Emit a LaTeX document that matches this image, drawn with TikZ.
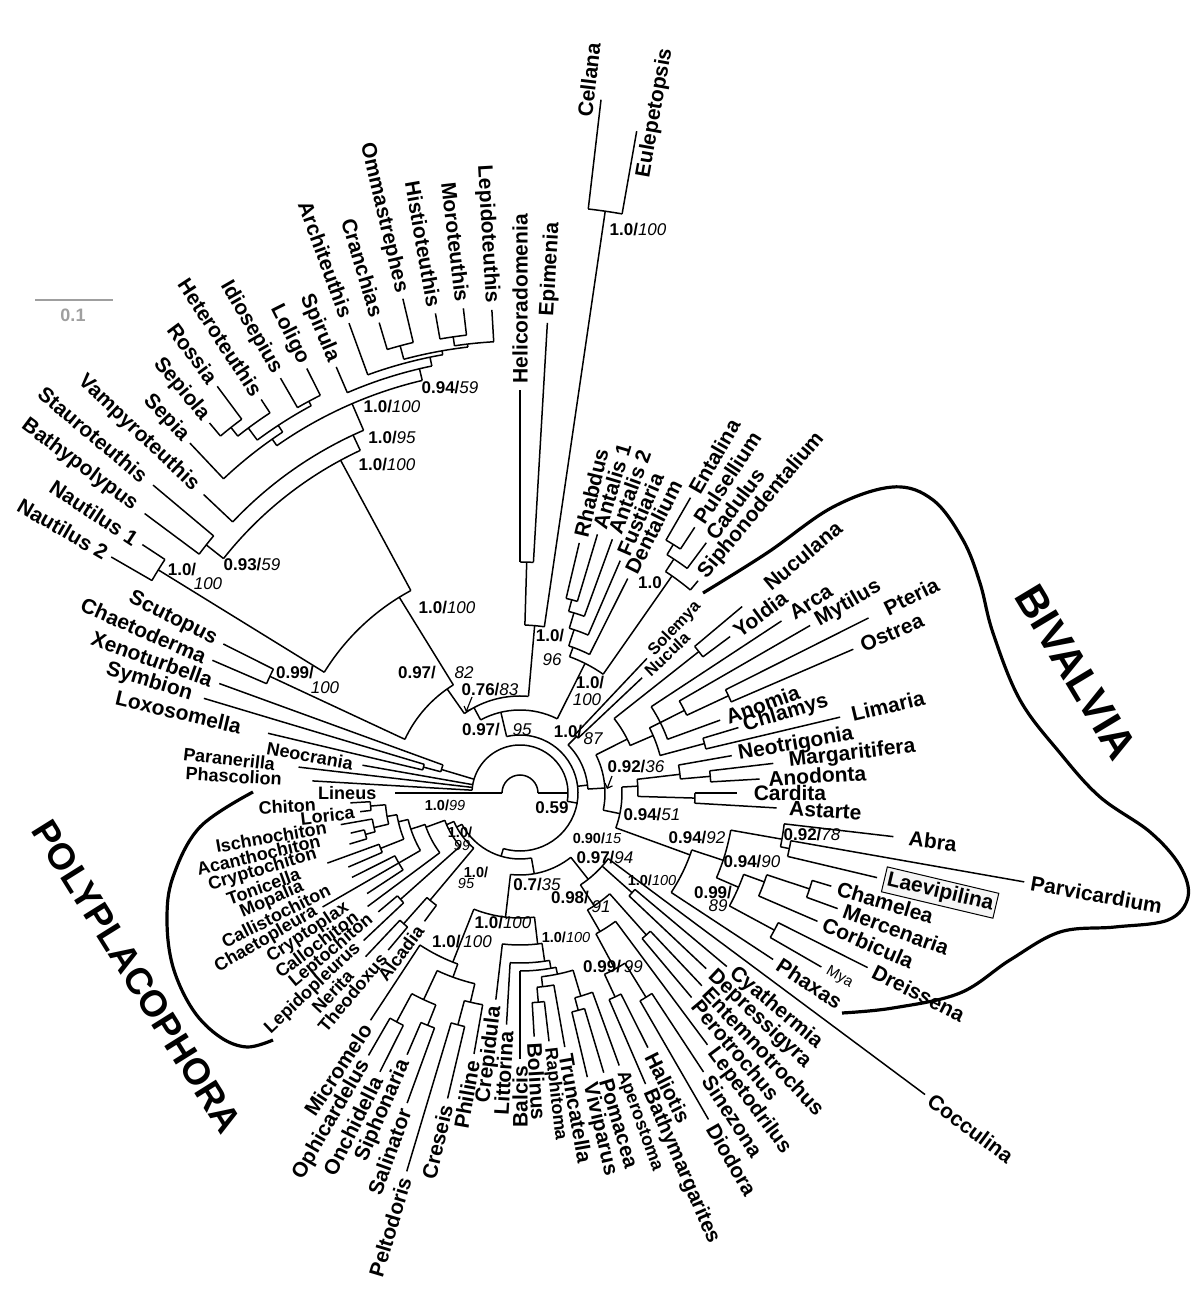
\documentclass[tikz,border=0pt]{standalone}
\usepackage{fontspec}
\setmainfont{Liberation Sans}
\usetikzlibrary{calc,arrows.meta}
% \Leaf[label radius]{name}{index}{tip radius}{text}{style}
\newcommand\Leaf[6][0]{%
  \pgfmathsetmacro\qA{180-(#3)*10/3}%
  \expandafter\xdef\csname A@#2\endcsname{\qA}%
  \expandafter\xdef\csname S@#2\endcsname{#3}%
  \expandafter\xdef\csname N@#2\endcsname{1}%
  \coordinate (#2) at ($(C)+(\qA:#4pt)$);%
  \ifdim #1pt=0pt \pgfmathsetmacro\qR{#4+5}\else\def\qR{#1}\fi
  \ifdim\qA pt>90.01pt \def\qRot{\qA-180}\def\qAnc{east}%
  \else\ifdim\qA pt<-89.99pt \def\qRot{\qA+180}\def\qAnc{east}%
  \else\def\qRot{\qA}\def\qAnc{west}\fi\fi
  \node[#6,rotate=\qRot,anchor=\qAnc] (#2-l) at ($(C)+(\qA:\qR pt)$) {#5};%
}
\newcommand\Inner[3]{%
  \gdef\qS{0}\gdef\qN{0}\gdef\qMin{1000}\gdef\qMax{-1000}%
  \foreach \ch in {#3}{%
    \edef\qa{\csname A@\ch\endcsname}%
    \pgfmathsetmacro\qT{\qS+\csname S@\ch\endcsname}\global\let\qS\qT
    \pgfmathsetmacro\qT{\qN+\csname N@\ch\endcsname}\global\let\qN\qT
    \pgfmathsetmacro\qT{min(\qMin,\qa)}\global\let\qMin\qT
    \pgfmathsetmacro\qT{max(\qMax,\qa)}\global\let\qMax\qT
    \draw ($(C)+(\qa:#2pt)$) -- (\ch);
  }%
  \pgfmathsetmacro\qA{180-\qS/\qN*10/3}%
  \expandafter\xdef\csname A@#1\endcsname{\qA}%
  \expandafter\xdef\csname S@#1\endcsname{\qS}%
  \expandafter\xdef\csname N@#1\endcsname{\qN}%
  \draw ($(C)+(\qMin:#2pt)$) arc[start angle=\qMin,end angle=\qMax,radius=#2pt];
  \coordinate (#1) at ($(C)+(\qA:#2pt)$);
}
\newcommand\bb[1]{{\bfseries #1}}
\newcommand\ii[1]{{\mdseries\itshape #1}}
\tikzset{
  lab/.style={font=\fontsize{21}{21}\selectfont\bfseries,inner sep=1pt},
  md/.style={font=\fontsize{18}{18}\selectfont\bfseries,inner sep=1pt},
  sm/.style={font=\fontsize{18}{18}\selectfont\bfseries,inner sep=1pt},
  ch/.style={font=\fontsize{18}{18}\selectfont\bfseries,inner sep=1pt},
  tn/.style={font=\fontsize{16.5}{17}\selectfont\bfseries,inner sep=1pt},
  my/.style={font=\fontsize{15}{15}\selectfont,inner sep=1pt},
  boxed/.style={lab,draw,line width=1pt,fill=gray!8,inner sep=3pt},
  sv/.style={font=\fontsize{17}{17}\selectfont,inner sep=0pt},
  svs/.style={font=\fontsize{14.5}{15}\selectfont,inner sep=0pt},
  brk/.style={line width=3.2pt},
  big/.style={font=\fontsize{43}{43}\selectfont\bfseries,inner sep=0pt},
}
\begin{document}
\begin{tikzpicture}[x=1pt,y=1pt,line width=1.5pt]
\useasboundingbox (0,0) rectangle (1200,1307);
\coordinate (C) at (520,514);
% ---------- leaves ----------
\Leaf[142]{Lineus}{0}{125}{Lineus}{sm}
\Leaf[237]{Phascolion}{1}{208}{Phascolion}{sm}
\Leaf[245]{Paranerilla}{2}{223}{Paranerilla}{sm}
\Leaf[168]{Neocrania}{3}{160}{Neocrania}{sm}
\Leaf[285]{Loxosomella}{4}{259}{Loxosomella}{lab}
\Leaf[341]{Symbion}{5}{330}{Symbion}{lab}
\Leaf[326]{Xenoturbella}{6}{320}{Xenoturbella}{lab}
\Leaf[341]{Chaetoderma}{7}{335}{Chaetoderma}{lab}
\Leaf[339]{Scutopus}{8}{332}{Scutopus}{lab}
\Leaf[476]{NautB}{9}{472}{Nautilus 2}{lab}
\Leaf[458]{NautA}{10}{452}{Nautilus 1}{lab}
\Leaf[478]{Bathypolypus}{11}{468}{Bathypolypus}{lab}
\Leaf[488]{Stauroteuthis}{12}{479}{Stauroteuthis}{lab}
\Leaf[444]{Vampyroteuthis}{13}{435}{Vampyroteuthis}{lab}
\Leaf{Sepia}{14}{481}{Sepia}{lab}
\Leaf{Sepiola}{15}{483}{Sepiola}{lab}
\Leaf{Rossia}{16}{507}{Rossia}{lab}
\Leaf{Heteroteuthis}{17}{471}{Heteroteuthis}{lab}
\Leaf{Idiosepius}{18}{479}{Idiosepius}{lab}
\Leaf{Loligo}{19}{475}{Loligo}{lab}
\Leaf{Spirula}{20}{464}{Spirula}{lab}
\Leaf{Architeuthis}{21}{500}{Architeuthis}{lab}
\Leaf{Cranchias}{22}{491}{Cranchias}{lab}
\Leaf{Ommastrephes}{23}{508}{Ommastrephes}{lab}
\Leaf{Histioteuthis}{24}{487}{Histioteuthis}{lab}
\Leaf{Moroteuthis}{25}{488}{Moroteuthis}{lab}
\Leaf{Lepidoteuthis}{26}{484}{Lepidoteuthis}{lab}
\Leaf{Helicoradomenia}{27}{403}{Helicoradomenia}{lab}
\Leaf{Epimenia}{28}{471}{Epimenia}{lab}
\Leaf{Cellana}{29}{698}{}{lab}
\Leaf{Eulepetopsis}{30}{672}{}{lab}
\Leaf{Rhabdus}{31}{257}{Rhabdus}{lab}
\Leaf{AntalisA}{32}{270}{Antalis 1}{lab}
\Leaf{AntalisB}{33}{270}{Antalis 2}{lab}
\Leaf{Fustiaria}{34}{253}{Fustiaria}{lab}
\Leaf{Dentalium}{35}{240}{Dentalium}{lab}
\Leaf{Entalina}{36}{341}{Entalina}{lab}
\Leaf{Pulsellium}{37}{318}{Pulsellium}{lab}
\Leaf{Cadulus}{38}{312}{Cadulus}{lab}
\Leaf{Siphonodentalium}{39}{277}{Siphonodentalium}{lab}
\Leaf{Solemya}{40}{185}{Solemya}{tn}
\Leaf{Nucula}{41}{168}{Nucula}{tn}
\Leaf[320]{Nuculana}{42}{290}{Nuculana}{lab}
\Leaf[267]{Yoldia}{43}{262}{Yoldia}{lab}
\Leaf[323]{Arca}{44}{313}{Arca}{lab}
\Leaf[341]{Mytilus}{45}{335}{Mytilus}{lab}
\Leaf[407]{Pteria}{46}{390}{Pteria}{lab}
\Leaf[370]{Ostrea}{47}{363}{Ostrea}{lab}
\Leaf{Anomia}{48}{213}{Anomia}{lab}
\Leaf[232]{Chlamys}{49}{228}{Chlamys}{lab}
\Leaf[339]{Limaria}{50}{329}{Limaria}{lab}
\Leaf[220]{Neotrigonia}{51}{215}{Neotrigonia}{lab}
\Leaf[269]{Margaritifera}{52}{255}{Margaritifera}{lab}
\Leaf[247]{Anodonta}{53}{240}{Anodonta}{lab}
\Leaf[232]{Cardita}{54}{217}{Cardita}{lab}
\Leaf[268]{Astarte}{55}{257}{Astarte}{lab}
\Leaf[390]{Abra}{56}{376}{Abra}{lab}
\Leaf{Parvicardium}{57}{512}{Parvicardium}{lab}
\Leaf[374]{Laevipilina}{58}{367}{Laevipilina}{boxed}
\Leaf{Chamelea}{59}{325}{Chamelea}{lab}
\Leaf{Mercenaria}{60}{338}{Mercenaria}{lab}
\Leaf{Corbicula}{61}{324}{Corbicula}{lab}
\Leaf{Dreissena}{62}{389}{Dreissena}{lab}
\Leaf{Mya}{63}{348}{Mya}{my}
\Leaf{Phaxas}{64}{303}{Phaxas}{lab}
\Leaf{Cocculina}{65}{505}{Cocculina}{lab}
\Leaf{Cyathermia}{66}{270}{Cyathermia}{lab}
\Leaf{Depressigyra}{67}{256}{Depressigyra}{lab}
\Leaf{Entemnotrochus}{68}{265}{Entemnotrochus}{lab}
\Leaf{Perotrochus}{69}{267}{Perotrochus}{lab}
\Leaf{Lepetodrilus}{70}{314}{Lepetodrilus}{lab}
\Leaf{Sinezona}{71}{334}{Sinezona}{lab}
\Leaf{Diodora}{72}{377}{Diodora}{lab}
\Leaf{Haliotis}{73}{285}{Haliotis}{lab}
\Leaf{Bathymargarites}{74}{317}{Bathymargarites}{lab}
\Leaf{Aperostoma}{75}{290}{Aperostoma}{md}
\Leaf{Pomacea}{76}{292}{Pomacea}{lab}
\Leaf{Viviparus}{77}{292}{Viviparus}{lab}
\Leaf{Truncatella}{78}{258}{Truncatella}{lab}
\Leaf{Raphitoma}{79}{250}{Raphitoma}{md}
\Leaf{Bolinus}{80}{244}{Bolinus}{lab}
\Leaf{Balcis}{81}{266}{Balcis}{lab}
\Leaf{Littorina}{82}{232}{Littorina}{lab}
\Leaf{Crepidula}{83}{208}{Crepidula}{lab}
\Leaf{Philine}{84}{265}{Philine}{lab}
\Leaf{Creseis}{85}{314}{Creseis}{lab}
\Leaf{Peltodoris}{86}{395}{Peltodoris}{lab}
\Leaf{Salinator}{87}{330}{Salinator}{lab}
\Leaf{Siphonaria}{88}{285}{Siphonaria}{lab}
\Leaf{Onchidella}{89}{312}{Onchidella}{lab}
\Leaf{Ophicardelus}{90}{303}{Ophicardelus}{lab}
\Leaf{Micromelo}{91}{272}{Micromelo}{lab}
\Leaf[166]{Alcadia}{92}{160}{Alcadia}{ch}
\Leaf[211]{Theodoxus}{93}{205}{Theodoxus}{ch}
\Leaf[246]{Nerita}{94}{225}{Nerita}{ch}
\Leaf[221]{Lepidopleurus}{95}{215}{Lepidopleurus}{ch}
\Leaf[193]{Leptochiton}{96}{185}{Leptochiton}{ch}
\Leaf[203]{Callochiton}{97}{190}{Callochiton}{ch}
\Leaf[205]{Cryptoplax}{98}{183}{Cryptoplax}{ch}
\Leaf[234]{Chaetopleura}{99}{228}{Chaetopleura}{ch}
\Leaf[212]{Callistochiton}{100}{188}{Callistochiton}{ch}
\Leaf[235]{Mopalia}{101}{187}{Mopalia}{ch}
\Leaf[233]{Tonicella}{102}{205}{Tonicella}{ch}
\Leaf[211]{Cryptochiton}{103}{178}{Cryptochiton}{ch}
\Leaf[204]{Acanthochiton}{104}{174}{Acanthochiton}{ch}
\Leaf[195]{Ischnochiton}{105}{182}{Ischnochiton}{ch}
\Leaf[165]{Lorica}{106}{161}{Lorica}{ch}
\Leaf[203]{Chiton}{107}{170}{Chiton}{ch}
% ---------- internal nodes ----------
\Inner{MH}{461}{Histioteuthis,Moroteuthis}
\Inner{MHL}{452}{MH,Lepidoteuthis}
\Inner{CO}{463}{Cranchias,Ommastrephes}
\Inner{COMHL}{449}{CO,MHL}
\Inner{Oeg}{445}{Architeuthis,COMHL}
\Inner{SpO}{436}{Spirula,Oeg}
\Inner{SR}{466}{Sepiola,Rossia}
\Inner{SRH}{455}{SR,Heteroteuthis}
\Inner{IL}{445}{Idiosepius,Loligo}
\Inner{SRHIL}{440}{SRH,IL}
\Inner{Sep}{432}{Sepia,SRHIL}
\Inner{Decap}{424}{Sep,SpO}
\Inner{VD}{395}{Vampyroteuthis,Decap}
\Inner{Octo}{400}{Bathypolypus,Stauroteuthis}
\Inner{Coleo}{378}{Octo,VD}
\Inner{Naut}{425}{NautB,NautA}
\Inner{Ceph}{230}{Naut,Coleo}
\Inner{Caudo}{276}{Chaetoderma,Scutopus}
\Inner{NnA}{127}{Caudo,Ceph}
\Inner{Sol}{231}{Helicoradomenia,Epimenia}
\Inner{Pat}{588}{Cellana,Eulepetopsis}
\Inner{SP}{168}{Sol,Pat}
\Inner{NnB}{97}{NnA,SP}
\Inner{DthreeN}{200}{Rhabdus,AntalisA}
\Inner{DtwoN}{188}{DthreeN,AntalisB}
\Inner{DoneN}{172}{DtwoN,Fustiaria}
\Inner{Dent}{155}{DoneN,Dentalium}
\Inner{EP}{292}{Entalina,Pulsellium}
\Inner{GoneN}{280}{EP,Cadulus}
\Inner{Gad}{265}{GoneN,Siphonodentalium}
\Inner{Scaph}{145}{Dent,Gad}
\Inner{NnC}{83}{NnB,Scaph}
\Inner{SN}{80}{Solemya,Nucula}
\Inner{NY}{228}{Nuculana,Yoldia}
\Inner{PO}{230}{Pteria,Ostrea}
\Inner{MPO}{184}{Mytilus,PO}
\Inner{AMPOA}{157}{Arca,MPO,Anomia}
\Inner{CL}{191}{Chlamys,Limaria}
\Inner{Pter}{145}{AMPOA,CL}
\Inner{Xone}{120}{NY,Pter}
\Inner{MA}{191}{Margaritifera,Anodonta}
\Inner{Palaeo}{161}{Neotrigonia,MA}
\Inner{CA}{175}{Cardita,Astarte}
\Inner{PCA}{118}{Palaeo,CA}
\Inner{PL}{275}{Parvicardium,Laevipilina}
\Inner{APL}{266}{Abra,PL}
\Inner{CM}{305}{Chamelea,Mercenaria}
\Inner{CMC}{260}{CM,Corbicula}
\Inner{DM}{289}{Dreissena,Mya}
\Inner{HeA}{238}{CMC,DM}
\Inner{HeB}{214}{APL,HeA}
\Inner{Het}{181}{HeB,Phaxas}
\Inner{NnD}{102}{PCA,Het}
\Inner{NnE}{85}{Xone,NnD}
\Inner{Biv}{68}{SN,NnE}
\Inner{PE}{190}{Entemnotrochus,Perotrochus}
\Inner{SD}{240}{Sinezona,Diodora}
\Inner{HB}{225}{Haliotis,Bathymargarites}
\Inner{VeD}{200}{SD,HB}
\Inner{VeC}{160}{Lepetodrilus,VeD}
\Inner{VeB}{135}{PE,VeC}
\Inner{CD}{150}{Cyathermia,Depressigyra}
\Inner{Vet}{110}{Cocculina,CD,VeB}
\Inner{VP}{225}{Pomacea,Viviparus}
\Inner{Arch}{212}{Aperostoma,VP}
\Inner{RB}{210}{Raphitoma,Bolinus}
\Inner{CaE}{195}{Truncatella,RB}
\Inner{CaD}{185}{Arch,CaE}
\Inner{CaC}{178}{CaD,Balcis}
\Inner{CaB}{170}{CaC,Littorina}
\Inner{Caeno}{152}{CaB,Crepidula}
\Inner{CP}{240}{Creseis,Peltodoris}
\Inner{Opis}{215}{Philine,CP}
\Inner{SS}{250}{Salinator,Siphonaria}
\Inner{OO}{260}{Onchidella,Ophicardelus}
\Inner{Pul}{228}{SS,OO}
\Inner{RestH}{196}{Opis,Pul}
\Inner{HetB}{182}{RestH,Micromelo}
\Inner{HC}{125}{Caeno,HetB}
\Inner{GasA}{82}{Vet,HC}
\Inner{TN}{175}{Theodoxus,Nerita}
\Inner{Ner}{140}{Alcadia,TN}
\Inner{LL}{160}{Lepidopleurus,Leptochiton}
\Inner{ChA}{150}{Lorica,Chiton}
\Inner{CAc}{160}{Cryptochiton,Acanthochiton}
\Inner{ChB}{150}{CAc,Ischnochiton}
\Inner{ChC}{150}{Mopalia,Tonicella}
\Inner{ChD}{140}{Cryptoplax,Chaetopleura,Callistochiton}
\Inner{ChG}{135}{ChB,ChA}
\Inner{ChF}{125}{ChC,ChG}
\Inner{ChE}{115}{ChD,ChF}
\Inner{Chitonida}{100}{Callochiton,ChE}
\Inner{Pol}{80}{LL,Chitonida}
\Inner{GP}{72}{Ner,Pol}
\Inner{G}{66}{GasA,GP}
\Inner{M}{58}{NnC,Biv,G}
\Inner{LS}{100}{Loxosomella,Symbion}
\Inner{XLS}{82}{LS,Xenoturbella}
\Inner{R}{48}{Phascolion,Paranerilla,Neocrania,XLS,M}
% root
\coordinate (root0) at ($(C)+(0:18pt)$);
\coordinate (root180) at ($(C)+(180:18pt)$);
\draw (root0) arc[start angle=0,end angle=180,radius=18pt];
\draw (root180) -- (Lineus);
\draw (root0) -- (R);
% ---------- image-coordinate items ----------
\begin{scope}[y=-1pt,yshift=1307pt]
\node[lab,rotate=83.3] (CellanaL) at (589,80) {Cellana};
\node[lab,rotate=80] (EulepL) at (655,113) {Eulepetopsis};
% scale bar
\draw[gray!75,line width=2.5pt] (35,300) coordinate (sbA) -- (113,300) coordinate (sbB);
\node[sv,text=gray!75,font=\fontsize{18}{18}\selectfont\bfseries] (sbL) at (73,315) {0.1};
% group labels
\node[big,rotate=-59] (BIV) at (1076,672) {BIVALVIA};
\node[big,font=\fontsize{37}{37}\selectfont\bfseries,rotate=-58] (POL) at (137,977) {POLYPLACOPHORA};
\draw[brk] plot[smooth,tension=0.6] coordinates {(253,792) (200,827) (173,877) (167,920) (173,967) (193,1010) (220,1037) (247,1047) (273,1040)};
\draw[brk] plot[smooth,tension=0.6] coordinates {(703,593) (767,553) (833,507) (893,487) (933,500) (963,540) (980,583) (993,633) (1020,700) (1060,753) (1100,797) (1150,832) (1180,866) (1188,897) (1168,920) (1115,927) (1060,932) (1010,960) (960,993) (893,1008) (842,1013)};
% support values
\node[sv] (s1) at (638,230) {\bb{1.0/}\ii{100}};
\node[sv] (s2) at (450,388) {\bb{0.94/}\ii{59}};
\node[sv] (s3) at (392,407) {\bb{1.0/}\ii{100}};
\node[sv] (s4) at (392,438) {\bb{1.0/}\ii{95}};
\node[sv] (s5) at (387,465) {\bb{1.0/}\ii{100}};
\node[sv] (s6) at (252,565) {\bb{0.93/}\ii{59}};
\node[sv] (s7a) at (182,570) {\bb{1.0/}};
\node[sv] (s7b) at (208,584) {\ii{100}};
\node[sv] (s8) at (447,608) {\bb{1.0/}\ii{100}};
\node[sv] (s9a) at (295,673) {\bb{0.99/}};
\node[sv] (s9b) at (325,688) {\ii{100}};
\node[sv] (s10a) at (417,673) {\bb{0.97/}};
\node[sv] (s10b) at (464,673) {\ii{82}};
\node[sv] (s11) at (490,690) {\bb{0.76/}\ii{83}};
\draw[-{Straight Barb[length=4pt]},line width=1.2pt] (472,697) -- (466,712);
\node[sv] (s12a) at (481,730) {\bb{0.97/}};
\node[sv] (s12b) at (522,730) {\ii{95}};
\node[sv] (s13a) at (550,636) {\bb{1.0/}};
\node[sv] (s13b) at (552,660) {\ii{96}};
\node[sv] (s14a) at (590,683) {\bb{1.0/}};
\node[sv] (s14b) at (587,700) {\ii{100}};
\node[sv] (s15) at (650,583) {\bb{1.0}};
\node[sv] (s16a) at (568,732) {\bb{1.0/}};
\node[sv] (s16b) at (593,739) {\ii{87}};
\node[sv] (s17) at (636,767) {\bb{0.92/}\ii{36}};
\draw[-{Straight Barb[length=4pt]},line width=1.2pt] (612,776) -- (607,789);
\node[sv] (s18) at (652,815) {\bb{0.94/}\ii{51}};
\node[sv] (s19) at (552,808) {\bb{0.59}};
\node[svs] (s20) at (597,838) {\bb{0.90/}\ii{15}};
\node[sv] (s21) at (697,838) {\bb{0.94/}\ii{92}};
\node[sv] (s22) at (812,835) {\bb{0.92/}\ii{78}};
\node[sv] (s23) at (752,862) {\bb{0.94/}\ii{90}};
\node[sv] (s24a) at (713,893) {\bb{0.99/}};
\node[sv] (s24b) at (718,906) {\ii{89}};
\node[svs] (s25) at (652,880) {\bb{1.0/}\ii{100}};
\node[sv] (s26) at (605,858) {\bb{0.97/}\ii{94}};
\node[sv] (s27a) at (570,898) {\bb{0.98/}};
\node[sv] (s27b) at (601,907) {\ii{91}};
\node[sv] (s28) at (537,885) {\bb{0.7/}\ii{35}};
\node[svs] (s29a) at (476,872) {\bb{1.0/}};
\node[svs] (s29b) at (466,884) {\ii{95}};
\node[svs] (s30a) at (460,832) {\bb{1.0/}};
\node[svs] (s30b) at (462,846) {\ii{99}};
\node[svs] (s31) at (445,805) {\bb{1.0/}\ii{99}};
\node[sv] (s32) at (503,923) {\bb{1.0/}\ii{100}};
\node[svs] (s33) at (566,937) {\bb{1.0/}\ii{100}};
\node[sv] (s34) at (462,942) {\bb{1.0/}\,\ii{100}};
\node[sv] (s35) at (613,967) {\bb{0.99/}\,\ii{99}};
\end{scope}
\end{tikzpicture}
\end{document}
